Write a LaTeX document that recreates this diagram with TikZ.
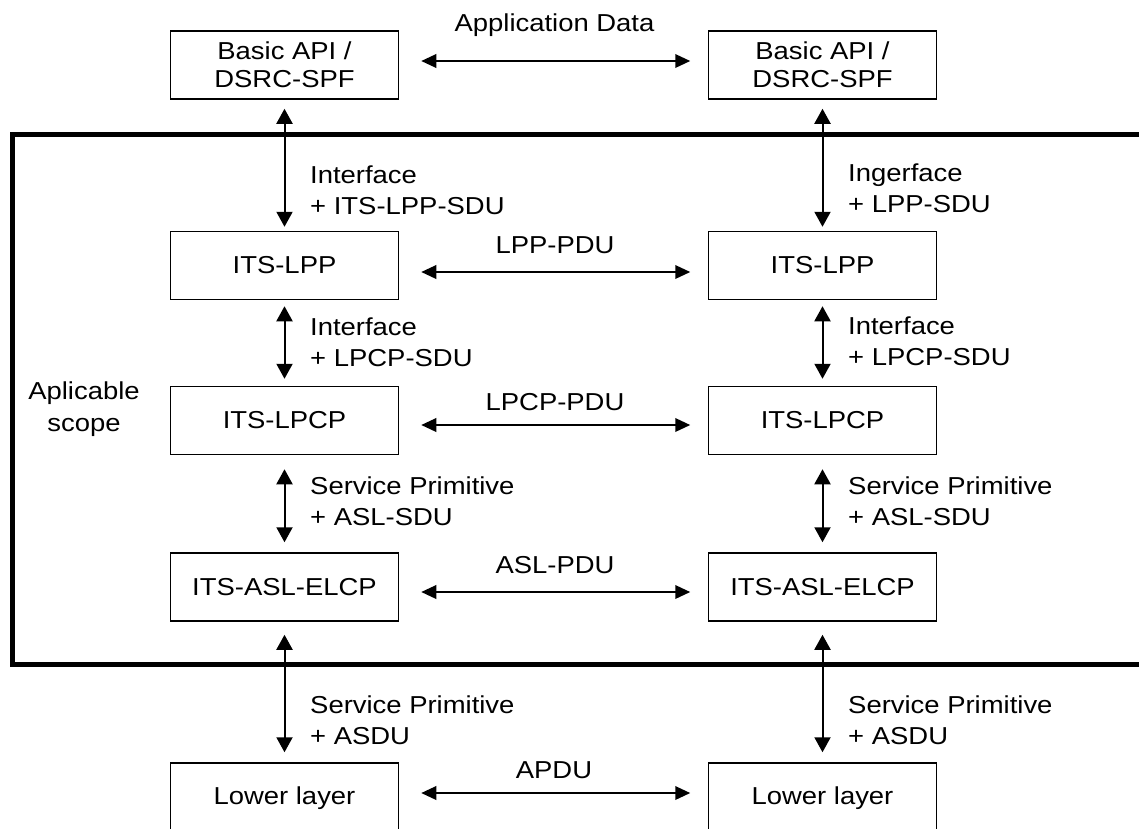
\documentclass[tikz,border=0pt]{standalone}
\usepackage{fontspec}
\setmainfont[FakeStretch=1.12]{Liberation Sans}
\usetikzlibrary{arrows.meta}
\tikzset{
  box/.style={draw, line width=1.5pt, inner sep=0pt, minimum height=68pt, minimum width=228pt, align=center, font=\fontsize{24.5}{28}\selectfont},
  harr/.style={line width=2pt, {Triangle[length=15pt,width=13.5pt]}-{Triangle[length=15pt,width=13.5pt]}},
  varr/.style={line width=2pt, {Triangle[length=15pt,width=16pt]}-{Triangle[length=15pt,width=16pt]}},
  lbl/.style={inner sep=0pt, align=left, anchor=west, font=\fontsize{24.5}{30.5}\selectfont},
  hlbl/.style={inner sep=0pt, font=\fontsize{24.5}{28}\selectfont},
  scopebox/.style={line width=4.3pt}
}
\begin{document}
\begin{tikzpicture}[x=1pt,y=-1pt]
\path[use as bounding box] (0,0) rectangle (1139,828);
\clip (0,0) rectangle (1139,828);

% applicable scope frame
\draw[scopebox] (1160,134.5) -- (12.5,134.5) -- (12.5,664.5) -- (1160,664.5);
\node[hlbl, align=center, font=\fontsize{24.5}{32}\selectfont] (scope) at (84,409) {Aplicable\\scope};

% boxes
\node[box] (L1) at (284.5,65) {Basic API /\\DSRC-SPF};
\node[box] (R1) at (822.5,65) {Basic API /\\DSRC-SPF};
\node[box] (L2) at (284.5,265.5) {ITS-LPP};
\node[box] (R2) at (822.5,265.5) {ITS-LPP};
\node[box] (L3) at (284.5,420.5) {ITS-LPCP};
\node[box] (R3) at (822.5,420.5) {ITS-LPCP};
\node[box] (L4) at (284.5,587) {ITS-ASL-ELCP};
\node[box] (R4) at (822.5,587) {ITS-ASL-ELCP};
\node[box, minimum height=70pt] (L5) at (284.5,798) {Lower layer};
\node[box, minimum height=70pt] (R5) at (822.5,798) {Lower layer};

% horizontal arrows
\draw[harr] ([xshift=22pt]L1.east |- 0,61) -- ([xshift=-17.5pt]R1.west |- 0,61);
\draw[harr] ([xshift=22pt]L2.east |- 0,272) -- ([xshift=-17.5pt]R2.west |- 0,272);
\draw[harr] ([xshift=22pt]L3.east |- 0,425) -- ([xshift=-17.5pt]R3.west |- 0,425);
\draw[harr] ([xshift=22pt]L4.east |- 0,592) -- ([xshift=-17.5pt]R4.west |- 0,592);
\draw[harr] ([xshift=22pt]L5.east |- 0,793) -- ([xshift=-17.5pt]R5.west |- 0,793);

\node[hlbl] (h1) at (554.5,25) {Application Data};
\node[hlbl] (h2) at (555,245) {LPP-PDU};
\node[hlbl] (h3) at (555,402) {LPCP-PDU};
\node[hlbl] (h4) at (555,565) {ASL-PDU};
\node[hlbl] (h5) at (554,770) {APDU};

% vertical arrows
\draw[varr] ([yshift=-9pt]L1.south) -- ([yshift=4pt]L2.north);
\draw[varr] ([yshift=-9pt]R1.south) -- ([yshift=4pt]R2.north);
\draw[varr] ([yshift=-6pt]L2.south) -- ([yshift=7pt]L3.north);
\draw[varr] ([yshift=-6pt]R2.south) -- ([yshift=7pt]R3.north);
\draw[varr] ([yshift=-14pt]L3.south) -- ([yshift=10pt]L4.north);
\draw[varr] ([yshift=-14pt]R3.south) -- ([yshift=10pt]R4.north);
\draw[varr] ([yshift=-13pt]L4.south) -- ([yshift=10pt]L5.north);
\draw[varr] ([yshift=-13pt]R4.south) -- ([yshift=10pt]R5.north);

% vertical labels
\node[lbl] (v1l) at (310,190) {Interface\\+ ITS-LPP-SDU};
\node[lbl] (v1r) at (848,188) {Ingerface\\+ LPP-SDU};
\node[lbl] (v2l) at (310,342) {Interface\\+ LPCP-SDU};
\node[lbl] (v2r) at (848,341) {Interface\\+ LPCP-SDU};
\node[lbl] (v3l) at (310,501) {Service Primitive\\+ ASL-SDU};
\node[lbl] (v3r) at (848,501) {Service Primitive\\+ ASL-SDU};
\node[lbl] (v4l) at (310,720) {Service Primitive\\+ ASDU};
\node[lbl] (v4r) at (848,720) {Service Primitive\\+ ASDU};
\end{tikzpicture}
\end{document}
